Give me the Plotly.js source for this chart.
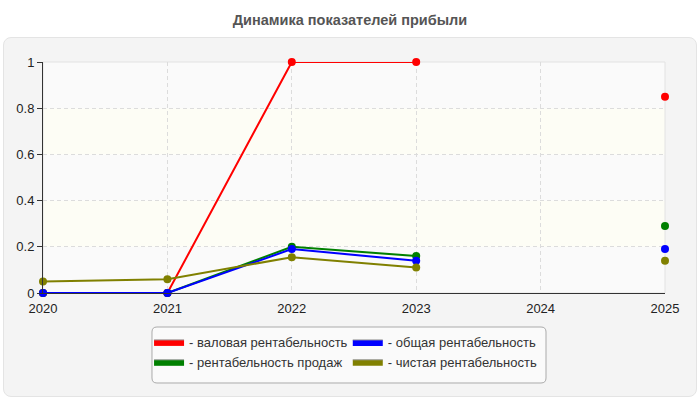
<!DOCTYPE html>
<html>
<head>
<meta charset="utf-8">
<script src="https://cdn.plot.ly/plotly-3.0.1.min.js"></script>
<style>
  body { margin: 0; background: #ffffff; }
  #wrap { position: relative; width: 700px; height: 400px; }
  #panel {
    position: absolute; left: 3px; top: 37px; width: 692px; height: 358px;
    background: #f4f4f4; border: 1px solid #e4e4e4; border-radius: 8px;
  }
  #chart { position: absolute; left: 0; top: 0; width: 700px; height: 400px; }
</style>
</head>
<body>
<div id="wrap">
  <div id="panel"></div>
  <div id="chart"></div>
</div>
<script>
// years on the x axis
const years = [2020, 2021, 2022, 2023, 2024, 2025];

// profitability series (null = no value for that year)
const grossMargin = [0, 0, 1, 1, null, 0.85];
const salesMargin = [0, 0, 0.20, 0.16, null, 0.29];
const totalMargin = [0, 0, 0.19, 0.14, null, 0.19];
const netMargin   = [0.05, 0.06, 0.155, 0.11, null, 0.14];

const seriesNames = [
  "- валовая рентабельность",
  "- рентабельность продаж",
  "- общая рентабельность",
  "- чистая рентабельность"
];
const seriesColors = ["#ff0000", "#008000", "#0000ff", "#808000"];
const seriesValues = [grossMargin, salesMargin, totalMargin, netMargin];

const yTicks = [0, 0.2, 0.4, 0.6, 0.8, 1];

let traces = [];
for (let i = 0; i < seriesValues.length; i++) {
  traces.push({
    x: years, y: seriesValues[i],
    type: "scatter", mode: "lines+markers",
    line: {color: seriesColors[i], width: 2},
    marker: {color: seriesColors[i], size: 8},
    connectgaps: false, cliponaxis: false, showlegend: false, hoverinfo: "x+y"
  });
}

// two legend columns: red + green on the left, blue + olive on the right
const legendCols = [[0, 1], [2, 3]];
legendCols.forEach(function(col, c) {
  col.forEach(function(i) {
    traces.push({
      x: [null], y: [null], type: "scatter", mode: "lines",
      fill: "toself", fillcolor: seriesColors[i],
      line: {color: "#999999", width: 1},
      name: seriesNames[i], showlegend: true,
      legend: c === 0 ? "legend" : "legend2"
    });
  });
});

// alternating background bands between the y gridlines
let shapes = [];
for (let i = 0; i < yTicks.length - 1; i++) {
  shapes.push({
    type: "rect", xref: "paper", yref: "y", layer: "below",
    x0: 0, x1: 1, y0: yTicks[i], y1: yTicks[i + 1],
    fillcolor: (i % 2 === 0) ? "#fafafa" : "#fdfdf5", line: {width: 0}
  });
}
shapes.push({
  type: "rect", xref: "paper", yref: "paper", layer: "below",
  x0: 0, x1: 1, y0: 0, y1: 1, line: {color: "#e2e2e2", width: 1}
});

// rounded box behind both legend columns (paper units)
function roundedBox(x0, y0, x1, y1, rx, ry) {
  return "M" + (x0 + rx) + "," + y0 + " L" + (x1 - rx) + "," + y0 +
    " Q" + x1 + "," + y0 + " " + x1 + "," + (y0 - ry) +
    " L" + x1 + "," + (y1 + ry) +
    " Q" + x1 + "," + y1 + " " + (x1 - rx) + "," + y1 +
    " L" + (x0 + rx) + "," + y1 +
    " Q" + x0 + "," + y1 + " " + x0 + "," + (y1 + ry) +
    " L" + x0 + "," + (y0 - ry) +
    " Q" + x0 + "," + y0 + " " + (x0 + rx) + "," + y0 + " Z";
}
shapes.push({
  type: "path", xref: "paper", yref: "paper", layer: "below",
  path: roundedBox(0.1752, -0.1472, 0.8087, -0.3896, 0.008, 0.0216),
  fillcolor: "#fafafa", line: {color: "#aaaaaa", width: 1}
});

const legendStyle = {
  orientation: "v", yanchor: "top", xanchor: "left", y: -0.147,
  bgcolor: "rgba(0,0,0,0)", borderwidth: 0, itemwidth: 30,
  font: {size: 13, color: "#333333"}
};

let layout = {
  width: 700, height: 400,
  margin: {l: 43, r: 35, t: 62, b: 107},
  paper_bgcolor: "rgba(0,0,0,0)",
  plot_bgcolor: "#ffffff",
  font: {family: "Liberation Sans, Arial, sans-serif", size: 13, color: "#222222"},
  title: {
    text: "<b>Динамика показателей прибыли</b>",
    font: {size: 14.5, color: "#555555"},
    x: 0.5, xref: "container", y: 0.95, yref: "container", yanchor: "middle"
  },
  xaxis: {
    range: [2020, 2025], tickvals: years, ticktext: years.map(String),
    showgrid: true, gridcolor: "#dcdcdc", griddash: "4px,3px", gridwidth: 1,
    showline: true, linecolor: "#333333", linewidth: 1,
    zeroline: false, ticks: "", ticklabelstandoff: 3, fixedrange: true
  },
  yaxis: {
    range: [0, 1], tickvals: yTicks,
    showgrid: true, gridcolor: "#dcdcdc", griddash: "4px,3px", gridwidth: 1,
    showline: true, linecolor: "#333333", linewidth: 1,
    zeroline: false, ticks: "outside", ticklen: 5, tickcolor: "#333333",
    fixedrange: true
  },
  shapes: shapes,
  showlegend: true,
  legend: Object.assign({x: 0.1705}, legendStyle),
  legend2: Object.assign({x: 0.4900}, legendStyle)
};

Plotly.newPlot("chart", traces, layout, {displayModeBar: false, staticPlot: true});
</script>
</body>
</html>
